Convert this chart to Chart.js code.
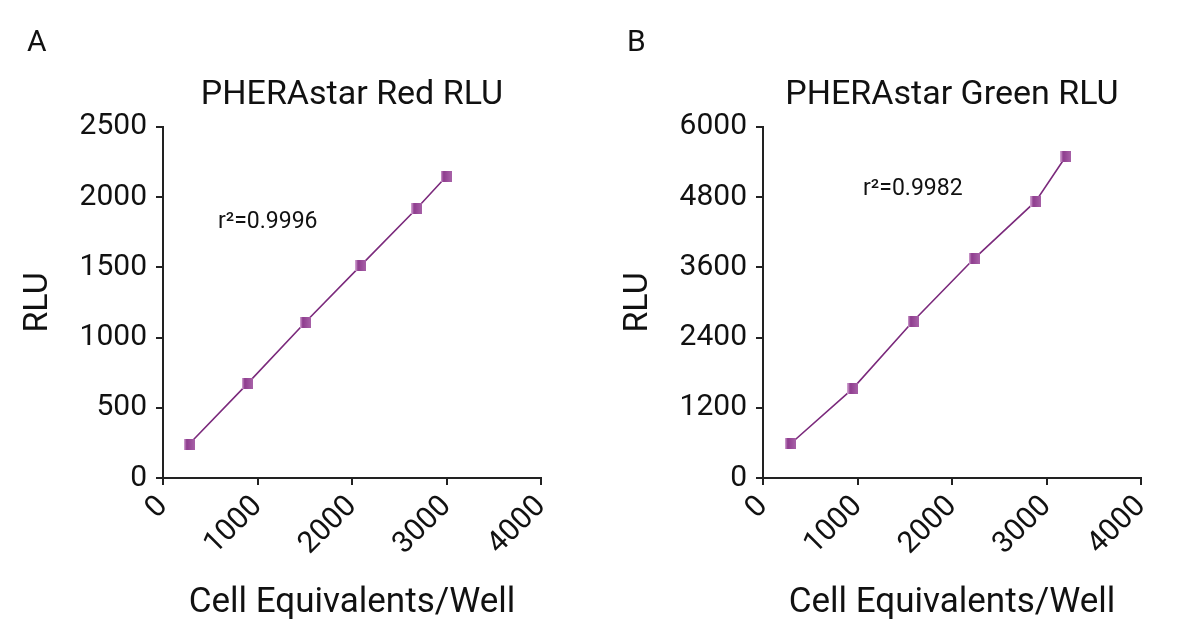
<!DOCTYPE html>
<html>
<head>
<meta charset="utf-8">
<script src="https://cdn.jsdelivr.net/npm/chart.js@4.4.0/dist/chart.umd.min.js"></script>
<style>
  body { margin: 0; background: #fff; }
  #wrap { display: flex; width: 1200px; height: 632px; }
  canvas { display: block; }
</style>
</head>
<body>
<div id="wrap">
  <canvas id="chartA" width="600" height="632"></canvas>
  <canvas id="chartB" width="600" height="632"></canvas>
</div>
<script>
// values
const cellsRed = [278, 892, 1506, 2092, 2685, 2995];
const rluRed = [242, 670, 1109, 1512, 1918, 2144];
const cellsGreen = [289, 950, 1588, 2235, 2887, 3204];
const rluGreen = [581, 1527, 2678, 3749, 4730, 5493];

const xTicks = [0, 1000, 2000, 3000, 4000];
const yTicksRed = [0, 500, 1000, 1500, 2000, 2500];
const yTicksGreen = [0, 1200, 2400, 3600, 4800, 6000];

Chart.defaults.font.family = "Roboto, 'Liberation Sans', sans-serif";
Chart.defaults.color = "#111";

// square marker with a soft gradient
function makeMarker() {
  const c = document.createElement("canvas");
  c.width = 11;
  c.height = 11;
  const g = c.getContext("2d");
  const grad = g.createLinearGradient(0, 0, 11, 0);
  grad.addColorStop(0, "#d9aed9");
  grad.addColorStop(0.25, "#8e3c8e");
  grad.addColorStop(1, "#a862a8");
  g.fillStyle = grad;
  g.fillRect(0, 0, 11, 11);
  return c;
}
const marker = makeMarker();

// panel letter + r² note
const panelText = {
  id: "panelText",
  afterDraw(chart, args, opts) {
    const ctx = chart.ctx;
    ctx.save();
    ctx.fillStyle = "#111";
    ctx.font = "30px Roboto, sans-serif";
    ctx.textBaseline = "alphabetic";
    ctx.fillText(opts.letter, 27, 51);
    ctx.font = "23px Roboto, sans-serif";
    const x = chart.scales.x.getPixelForValue(opts.noteX);
    const y = chart.scales.y.getPixelForValue(opts.noteY);
    ctx.fillText(opts.note, x, y);
    ctx.restore();
  },
};

const plain = (v) => String(v);

function makeChart(id, xs, ys, yTicks, title, letter, note, noteX, noteY) {
  const points = xs.map((x, i) => ({ x, y: ys[i] }));
  return new Chart(document.getElementById(id), {
    type: "scatter",
    data: {
      datasets: [
        {
          data: points,
          showLine: true,
          borderColor: "#7b2a7c",
          borderWidth: 1.6,
          pointStyle: marker,
          tension: 0,
        },
      ],
    },
    options: {
      responsive: false,
      animation: false,
      layout: { padding: { top: 0, right: 59, bottom: 0, left: 0 } },
      plugins: {
        legend: { display: false },
        tooltip: { enabled: false },
        title: {
          display: true,
          text: title,
          fullSize: false,
          color: "#111",
          font: { size: 34, weight: "normal" },
          padding: { top: 75, bottom: 11 },
        },
        panelText: { letter, note, noteX, noteY },
      },
      scales: {
        x: {
          type: "linear",
          min: xTicks[0],
          max: xTicks[xTicks.length - 1],
          afterBuildTicks: (s) => { s.ticks = xTicks.map((v) => ({ value: v })); },
          afterFit: (s) => { s.height = 154; },
          grid: { drawOnChartArea: false, color: "#222", lineWidth: 2, tickLength: 7 },
          border: { color: "#222", width: 2 },
          ticks: { font: { size: 30 }, color: "#111", minRotation: 45, maxRotation: 45, padding: 4, callback: plain },
          title: {
            display: true,
            text: "Cell Equivalents/Well",
            color: "#111",
            font: { size: 35 },
            padding: { top: 0, bottom: 8 },
          },
        },
        y: {
          type: "linear",
          min: yTicks[0],
          max: yTicks[yTicks.length - 1],
          afterBuildTicks: (s) => { s.ticks = yTicks.map((v) => ({ value: v })); },
          afterFit: (s) => { s.width = 163; },
          grid: { drawOnChartArea: false, color: "#222", lineWidth: 2, tickLength: 7 },
          border: { color: "#222", width: 2 },
          ticks: { font: { size: 30 }, color: "#111", padding: 9, callback: plain },
          title: {
            display: true,
            text: "RLU",
            color: "#111",
            font: { size: 34 },
            padding: { top: 18, bottom: 0 },
          },
        },
      },
    },
    plugins: [panelText],
  });
}

makeChart("chartA", cellsRed, rluRed, yTicksRed, "PHERAstar Red RLU", "A", "r²=0.9996", 582, 1780);
makeChart("chartB", cellsGreen, rluGreen, yTicksGreen, "PHERAstar Green RLU", "B", "r²=0.9982", 1059, 4838);
</script>
</body>
</html>
